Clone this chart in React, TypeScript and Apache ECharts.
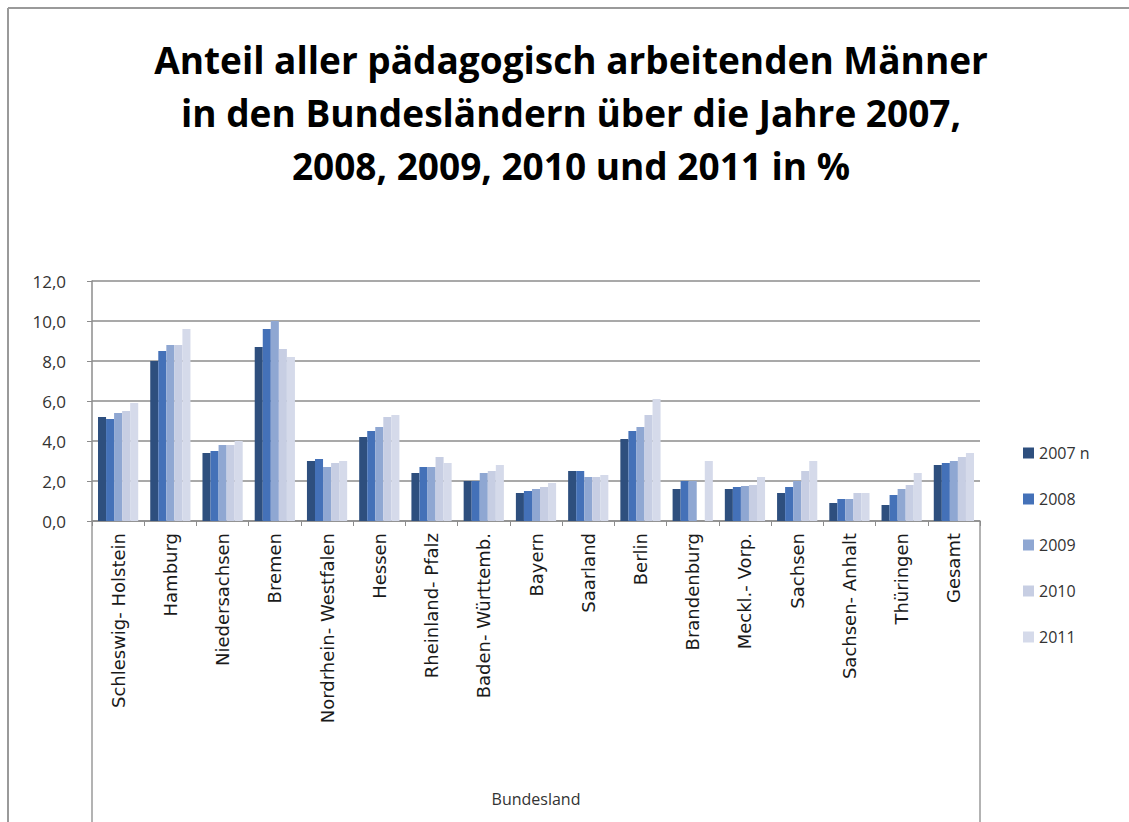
import React, { useEffect, useRef } from "react";
import * as echarts from "echarts";

const categories = [
  "Schleswig- Holstein",
  "Hamburg",
  "Niedersachsen",
  "Bremen",
  "Nordrhein- Westfalen",
  "Hessen",
  "Rheinland- Pfalz",
  "Baden- Württemb.",
  "Bayern",
  "Saarland",
  "Berlin",
  "Brandenburg",
  "Meckl.- Vorp.",
  "Sachsen",
  "Sachsen- Anhalt",
  "Thüringen",
  "Gesamt",
];

const seriesNames = ["2007 n", "2008", "2009", "2010", "2011"];

const v2007 = [5.2, 8.0, 3.4, 8.7, 3.0, 4.2, 2.4, 2.0, 1.4, 2.5, 4.1, 1.6, 1.6, 1.4, 0.9, 0.8, 2.8];
const v2008 = [5.1, 8.5, 3.5, 9.6, 3.1, 4.5, 2.7, 2.0, 1.5, 2.5, 4.5, 2.0, 1.7, 1.7, 1.1, 1.3, 2.9];
const v2009 = [5.4, 8.8, 3.8, 10.0, 2.7, 4.7, 2.7, 2.4, 1.6, 2.2, 4.7, 2.0, 1.75, 2.0, 1.1, 1.6, 3.0];
const v2010 = [5.5, 8.8, 3.8, 8.6, 2.9, 5.2, 3.2, 2.5, 1.7, 2.2, 5.3, null, 1.8, 2.5, 1.4, 1.8, 3.2];
const v2011 = [5.9, 9.6, 4.0, 8.2, 3.0, 5.3, 2.9, 2.8, 1.9, 2.3, 6.1, 3.0, 2.2, 3.0, 1.4, 2.4, 3.4];

const seriesValues = [v2007, v2008, v2009, v2010, v2011];
const colors = ["#2E4F7E", "#4471B8", "#8FA7D2", "#C7CEE3", "#D5DAEA"];

const yTicks = { min: 0, max: 12, interval: 2 };

const titleLines = [
  "Anteil aller pädagogisch arbeitenden Männer",
  "in den Bundesländern über die Jahre 2007,",
  "2008, 2009, 2010 und 2011 in %",
];

export default function App() {
  const ref = useRef<HTMLDivElement>(null);
  useEffect(() => {
    if (!ref.current) return;
    const chart = echarts.init(ref.current, undefined, { renderer: "svg" });
    const font = "'Open Sans', 'DejaVu Sans', sans-serif";
    const option: any = {
      animation: false,
      backgroundColor: "#ffffff",
      textStyle: { fontFamily: font },
      graphic: [
        {
          type: "line",
          shape: { x1: 8, y1: 8, x2: 1129, y2: 8 },
          style: { stroke: "#9a9a9a", lineWidth: 2 },
        },
        {
          type: "line",
          shape: { x1: 8, y1: 8, x2: 8, y2: 822 },
          style: { stroke: "#9a9a9a", lineWidth: 2 },
        },
        {
          type: "line",
          shape: { x1: 92, y1: 521, x2: 92, y2: 822 },
          style: { stroke: "#9a9a9a", lineWidth: 1.5 },
        },
        {
          type: "line",
          shape: { x1: 980, y1: 521, x2: 980, y2: 822 },
          style: { stroke: "#9a9a9a", lineWidth: 1.5 },
        },
        ...titleLines.map((t, i) => ({
          type: "text",
          x: 571,
          y: 59 + i * 53,
          style: {
            text: t,
            fontSize: 37,
            fontWeight: "bold",
            fontFamily: "'Open Sans', sans-serif",
            fill: "#000000",
            textAlign: "center",
            textVerticalAlign: "middle",
          },
        })),
      ],
      legend: {
        orient: "vertical",
        left: 1018,
        top: 440,
        itemWidth: 11,
        itemHeight: 11,
        itemGap: 30,
        icon: "rect",
        textStyle: { fontSize: 16, color: "#333333", fontFamily: font },
        data: seriesNames,
      },
      grid: { left: 92, right: 149, top: 281, bottom: 301, containLabel: false },
      xAxis: {
        type: "category",
        data: categories,
        name: "Bundesland",
        nameLocation: "middle",
        nameGap: 270,
        nameTextStyle: { fontSize: 16, color: "#333333", fontFamily: font },
        axisLine: { lineStyle: { color: "#8c8c8c", width: 1.5 } },
        axisTick: { show: true, interval: 0, length: 5, lineStyle: { color: "#8c8c8c" } },
        axisLabel: {
          interval: 0,
          rotate: 90,
          margin: 12,
          fontSize: 18,
          color: "#1a1a1a",
          fontFamily: "'DejaVu Sans', sans-serif",
        },
      },
      yAxis: {
        type: "value",
        min: yTicks.min,
        max: yTicks.max,
        interval: yTicks.interval,
        axisLine: { show: true, lineStyle: { color: "#8c8c8c", width: 1.5 } },
        axisTick: { show: true, length: 5, lineStyle: { color: "#8c8c8c" } },
        splitLine: { lineStyle: { color: "#8c8c8c", width: 1.5 } },
        axisLabel: {
          margin: 26,
          fontSize: 17,
          color: "#333333",
          fontFamily: font,
          formatter: (v: number) => v.toFixed(1).replace(".", ","),
        },
      },
      series: seriesNames.map((name, i) => ({
        name,
        type: "bar",
        data: seriesValues[i],
        barGap: "0%",
        barCategoryGap: "23%",
        itemStyle: { color: colors[i] },
      })),
    };
    chart.setOption(option);
    return () => chart.dispose();
  }, []);
  return (
    <div
      ref={ref}
      style={{ position: "absolute", left: 0, top: 0, width: 1129, height: 822 }}
    />
  );
}
